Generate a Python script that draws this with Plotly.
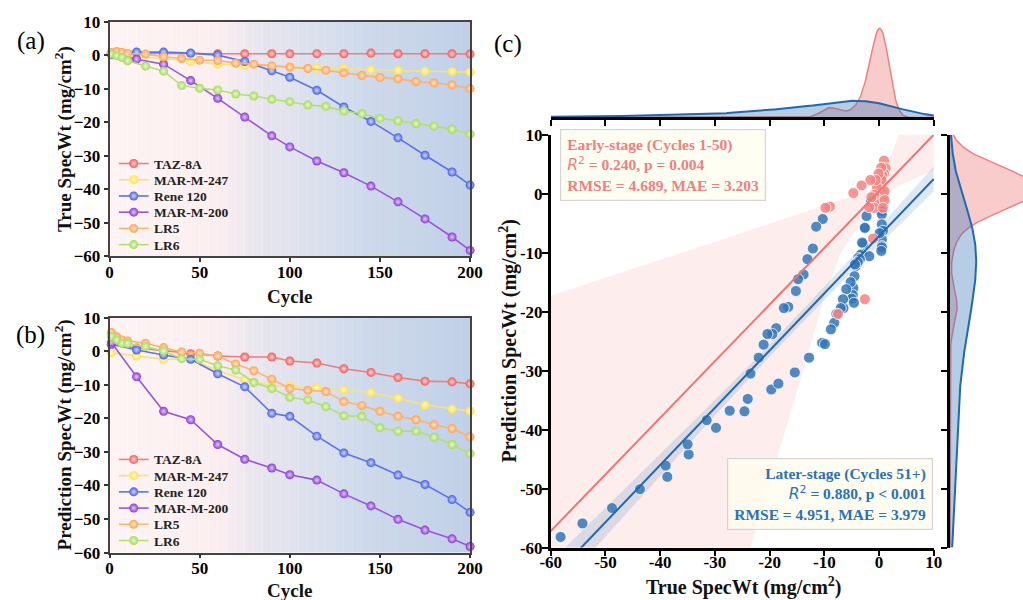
import numpy as np
import plotly.graph_objects as go

# ---------------- data ----------------
cycles_alloy = [1, 15, 30, 45, 60, 75, 90, 100, 115, 130, 145, 160, 175, 190, 200]
cycles_lr = [1, 4, 7, 10, 20, 30, 40, 50, 60, 70, 80, 90, 100, 110, 120, 130,
             140, 150, 160, 170, 180, 190, 200]

series_names = ["TAZ-8A", "MAR-M-247", "Rene 120", "MAR-M-200", "LR5", "LR6"]

true_taz8a = [0.5, 0.6, 0.6, 0.6, 0.5, 0.5, 0.5, 0.5, 0.5, 0.5, 0.7, 0.5, 0.5, 0.5, 0.4]
true_marm247 = [0.0, -0.4, -0.9, -1.8, -2.6, -2.9, -3.2, -3.4, -3.8, -3.9, -4.3, -4.5, -4.7, -4.8, -5.0]
true_rene120 = [0.6, 1.0, 1.0, 0.7, 0.1, -1.8, -4.6, -6.5, -10.4, -15.4, -19.7, -24.6, -29.8, -34.8, -38.7]
true_marm200 = [0.3, -1.1, -2.6, -7.5, -12.8, -18.4, -24.0, -27.3, -31.5, -35.0, -39.0, -43.7, -48.8, -54.2, -58.2]
true_lr5 = [0.9, 1.2, 0.9, 0.6, 0.4, -0.4, -0.9, -1.4, -1.5, -2.3, -2.6, -3.1, -3.5, -3.9,
            -4.4, -5.2, -6.0, -6.6, -7.0, -7.8, -8.2, -8.8, -9.9]
true_lr6 = [0.4, -0.1, -0.6, -1.6, -3.2, -4.7, -9.0, -9.8, -10.3, -11.5, -12.1, -13.1, -13.8,
            -14.8, -15.2, -16.6, -17.4, -18.8, -19.5, -20.4, -21.1, -22.0, -23.5]

pred_taz8a = [2.0, 1.0, 0.2, -0.7, -1.4, -1.7, -1.7, -2.9, -3.5, -5.2, -6.3, -7.8, -8.9, -9.1, -9.7]
pred_marm247 = [-0.4, -1.4, -2.4, -2.3, -5.8, -8.5, -10.2, -10.4, -10.9, -11.5, -12.3, -14.0, -16.0, -17.2, -17.8]
pred_rene120 = [2.1, 0.4, -1.1, -2.4, -6.7, -10.6, -18.5, -19.4, -25.3, -30.3, -33.2, -36.9, -39.7, -44.2, -48.0]
pred_marm200 = [2.6, -7.6, -17.9, -20.4, -27.8, -32.2, -34.8, -36.8, -38.4, -42.5, -46.1, -50.1, -53.3, -55.9, -58.2]
pred_lr5 = [5.6, 4.3, 3.4, 3.1, 2.4, 1.1, -0.2, -0.6, -1.4, -3.8, -5.8, -8.3, -11.1, -11.6,
            -12.0, -15.0, -16.2, -17.9, -19.4, -20.4, -21.9, -23.0, -25.5]
pred_lr6 = [4.4, 3.4, 2.3, 2.3, 1.4, 0.1, -2.2, -2.4, -4.3, -5.6, -9.3, -11.1, -13.7, -14.5,
            -16.5, -19.2, -19.4, -22.8, -23.8, -23.8, -25.6, -27.8, -30.5]

series_cycles = [cycles_alloy, cycles_alloy, cycles_alloy, cycles_alloy, cycles_lr, cycles_lr]
series_true = [true_taz8a, true_marm247, true_rene120, true_marm200, true_lr5, true_lr6]
series_pred = [pred_taz8a, pred_marm247, pred_rene120, pred_marm200, pred_lr5, pred_lr6]

early_cutoff = 50  # cycles 1-50 are "early stage"

# regression fits (slope, intercept) and their confidence bands
early_fit = [0.96, 0.4]
later_fit = [0.97, -7.2]
early_ci_x = [-60, -50, -40, -30, -20, -15, -10, -7, -5, -3, -2, -1, 0, 1, 2, 3, 4, 6, 8, 10]
early_ci_lower = [-176, -145, -113, -81, -49, -33.5, -17.5, -10.0, -7.2, -4.8, -3.7, -2.4,
                  -1.2, -0.2, 0.5, 1.0, 1.5, 2.4, 3.2, 4.0]
early_ci_upper = [-17.3, -14.2, -11.2, -8.2, -5.1, -3.6, -2.0, -1.1, -0.4, 0.1, 0.5, 1.3,
                  2.5, 4.3, 6.2, 8.5, 11.0, 15.0, 19.0, 23.0]
later_ci_x = [-60, -50, -40, -30, -20, -10, 0, 10]
later_ci_lower = [-68.4, -58.1, -47.8, -37.6, -27.6, -18.0, -8.7, 0.4]
later_ci_upper = [-62.4, -53.3, -44.2, -35.0, -25.6, -15.8, -5.7, 4.6]

early_label = ["Early-stage (Cycles 1-50)", "0.240", "p = 0.004", "RMSE = 4.689, MAE = 3.203"]
later_label = ["Later-stage (Cycles 51+)", "0.880", "p &lt; 0.001", "RMSE = 4.951, MAE = 3.979"]

c_ticks = [-60, -50, -40, -30, -20, -10, 0, 10]
c_ticktext = ["-60", "-50", "-40", "-30", "-20", "-10", "0", "10"]

# ---------------- styling ----------------
marker_colors = ["#F25A5A", "#FFE14D", "#4561E6", "#8A38D8", "#FFA14F", "#A6DA5B"]
line_colors = ["#F47B7B", "#F7E27A", "#5A74E8", "#9A54DC", "#FFB172", "#B3DF73"]
SERIF = "Liberation Serif"
EARLY_C = "#F08080"
LATER_C = "#2B72B4"

# drawing area in page pixels; the page adds an 8px inset around the figure
VIEW_W, VIEW_H, PAD = 1023, 600, 8
W, H = VIEW_W + 2 * PAD, VIEW_H + 2 * PAD


def tint(hex_color, amount):
    h = hex_color.lstrip("#")
    r, g, b = (int(h[i:i + 2], 16) for i in (0, 2, 4))
    r, g, b = (int(round(c + (255 - c) * amount)) for c in (r, g, b))
    return f"rgb({r},{g},{b})"


def px(x):
    """page pixel column -> paper x"""
    return (x - PAD) / VIEW_W


def py(y):
    """page pixel row -> paper y"""
    return 1.0 - (y - PAD) / VIEW_H


def sphere_marker(i, size=9):
    return dict(size=size, color=marker_colors[i], line=dict(width=0),
                gradient=dict(type="radial", color=tint(marker_colors[i], 0.75)))


fig = go.Figure()

# panels (a) and (b): line plots over cycles
for xa, ya, values in (("x", "y", series_true), ("x2", "y2", series_pred)):
    for i, name in enumerate(series_names):
        fig.add_trace(go.Scatter(
            x=series_cycles[i], y=values[i], mode="lines+markers", name=name,
            xaxis=xa, yaxis=ya, showlegend=False, cliponaxis=False,
            line=dict(color=line_colors[i], width=1.6), marker=sphere_marker(i)))

# panel (c): prediction vs truth, split by stage
early_t, early_p, later_t, later_p = [], [], [], []
for cyc, t, p in zip(series_cycles, series_true, series_pred):
    for c, tv, pv in zip(cyc, t, p):
        if c <= early_cutoff:
            early_t.append(tv)
            early_p.append(pv)
        else:
            later_t.append(tv)
            later_p.append(pv)

# confidence bands
fig.add_trace(go.Scatter(
    x=early_ci_x + early_ci_x[::-1], y=early_ci_upper + early_ci_lower[::-1],
    fill="toself", fillcolor="rgba(240,128,128,0.14)", line=dict(width=0),
    mode="lines", hoverinfo="skip", showlegend=False, xaxis="x3", yaxis="y3"))
fig.add_trace(go.Scatter(
    x=later_ci_x + later_ci_x[::-1], y=later_ci_upper + later_ci_lower[::-1],
    fill="toself", fillcolor="rgba(43,114,180,0.16)", line=dict(width=0),
    mode="lines", hoverinfo="skip", showlegend=False, xaxis="x3", yaxis="y3"))

fig.add_trace(go.Scatter(
    x=later_t, y=later_p, mode="markers", showlegend=False, xaxis="x3", yaxis="y3",
    marker=dict(size=11, color="rgba(52,118,182,0.85)", line=dict(color="white", width=0.8))))
fig.add_trace(go.Scatter(
    x=early_t, y=early_p, mode="markers", showlegend=False, xaxis="x3", yaxis="y3",
    marker=dict(size=11, color="rgba(244,132,128,0.85)", line=dict(color="white", width=0.8))))

fit_x = np.array([-60.0, 10.0])
fig.add_trace(go.Scatter(
    x=fit_x, y=early_fit[0] * fit_x + early_fit[1], mode="lines", showlegend=False,
    xaxis="x3", yaxis="y3", line=dict(color="#F47272", width=2)))
fig.add_trace(go.Scatter(
    x=fit_x, y=later_fit[0] * fit_x + later_fit[1], mode="lines", showlegend=False,
    xaxis="x3", yaxis="y3", line=dict(color="#2268AE", width=2)))


# marginal densities (gaussian KDE, Scott bandwidth, each group normalised)
def kde(values, grid):
    v = np.asarray(values, dtype=float)
    n = len(v)
    bw = v.std(ddof=1) * n ** (-0.2)
    z = (grid[:, None] - v[None, :]) / bw
    return np.exp(-0.5 * z ** 2).sum(axis=1) / (n * bw * np.sqrt(2 * np.pi))


grid = np.linspace(-60, 10, 400)
top_early, top_later = kde(early_t, grid), kde(later_t, grid)
side_early, side_later = kde(early_p, grid), kde(later_p, grid)

fig.add_trace(go.Scatter(x=grid, y=top_early, fill="tozeroy", mode="lines",
                         fillcolor="rgba(240,128,128,0.40)", line=dict(color="#F08080", width=1.5),
                         showlegend=False, xaxis="x4", yaxis="y4"))
fig.add_trace(go.Scatter(x=grid, y=top_later, fill="tozeroy", mode="lines",
                         fillcolor="rgba(43,114,180,0.35)", line=dict(color="#2268AE", width=2),
                         showlegend=False, xaxis="x4", yaxis="y4"))
fig.add_trace(go.Scatter(x=side_early, y=grid, fill="tozerox", mode="lines",
                         fillcolor="rgba(240,128,128,0.40)", line=dict(color="#F08080", width=1.5),
                         showlegend=False, xaxis="x5", yaxis="y5"))
fig.add_trace(go.Scatter(x=side_later, y=grid, fill="tozerox", mode="lines",
                         fillcolor="rgba(43,114,180,0.35)", line=dict(color="#2268AE", width=2),
                         showlegend=False, xaxis="x5", yaxis="y5"))

# legends of panels (a) and (b), laid out in a page-pixel overlay
legend_tops = [163.3, 460.7]
legend_step = 16.3
legend_font = dict(family=SERIF, size=13.5, color="#222", weight="bold")
legend_annotations = []
for top in legend_tops:
    for i, name in enumerate(series_names):
        yc = top + legend_step * i
        fig.add_trace(go.Scatter(
            x=[116.7, 146.7], y=[yc, yc], mode="lines", showlegend=False, hoverinfo="skip",
            xaxis="x6", yaxis="y6", line=dict(color=line_colors[i], width=1.6)))
        fig.add_trace(go.Scatter(
            x=[131.7], y=[yc], mode="markers", showlegend=False, hoverinfo="skip",
            xaxis="x6", yaxis="y6", marker=sphere_marker(i)))
        legend_annotations.append(dict(text=name, x=px(150), y=py(yc + 0.5), xanchor="left",
                                       yanchor="middle", font=legend_font))

# ---------------- layout ----------------
tick_font = dict(family=SERIF, size=17, color="black", weight="bold")
ab_x_domain = [px(107.3), px(470.7)]


def ab_xaxis(anchor):
    return dict(domain=ab_x_domain, range=[0, 200], anchor=anchor, tickvals=[0, 50, 100, 150, 200],
                ticks="outside", ticklen=4, tickwidth=1.5, tickcolor="#333",
                showline=True, linecolor="#444", linewidth=1.5, mirror=True,
                showgrid=False, zeroline=False, tickfont=tick_font, ticklabelstandoff=-5)


def ab_yaxis(anchor, dom):
    return dict(domain=dom, range=[-60, 10], anchor=anchor, dtick=10,
                ticks="outside", ticklen=4, tickwidth=1.5, tickcolor="#333",
                showline=True, linecolor="#444", linewidth=1.5, mirror=True,
                showgrid=False, zeroline=False, tickfont=tick_font)


c_x_domain = [px(552), px(938.1)]
c_y_domain = [py(549.3), py(134.3)]

fig.update_layout(
    width=W, height=H, margin=dict(l=0, r=0, t=0, b=0),
    paper_bgcolor="white", plot_bgcolor="rgba(0,0,0,0)", showlegend=False,
    xaxis=ab_xaxis("y"), yaxis=ab_yaxis("x", [py(256.7), py(21)]),
    xaxis2=ab_xaxis("y2"), yaxis2=ab_yaxis("x2", [py(554.3), py(318.3)]),
    xaxis3=dict(domain=c_x_domain, range=[-60, 10], anchor="y3", tickvals=c_ticks,
                ticktext=c_ticktext, ticks="outside", ticklen=6, tickwidth=2,
                tickcolor="black", showline=True, linecolor="black", linewidth=2.5,
                showgrid=False, zeroline=False, tickfont=tick_font, ticklabelstandoff=-9),
    yaxis3=dict(domain=c_y_domain, range=[-60, 10], anchor="x3", tickvals=c_ticks,
                ticktext=c_ticktext, ticks="outside", ticklen=6, tickwidth=2,
                tickcolor="black", showline=True, linecolor="black", linewidth=2.5,
                showgrid=False, zeroline=False, tickfont=tick_font, ticklabelstandoff=-4),
    xaxis4=dict(domain=c_x_domain, range=[-60, 10], anchor="y4", tickvals=c_ticks,
                ticks="outside", ticklen=6, tickwidth=2, tickcolor="black",
                showticklabels=False, showline=True, linecolor="black", linewidth=2.5,
                showgrid=False, zeroline=False),
    yaxis4=dict(domain=[py(117), py(23)], range=[0, float(top_early.max()) * 1.05],
                anchor="x4", visible=False),
    xaxis5=dict(domain=[px(954.4), 1.0], range=[0, float(side_later.max()) * 2.9],
                anchor="y5", visible=False),
    yaxis5=dict(domain=c_y_domain, range=[-60, 10], anchor="x5", tickvals=c_ticks,
                ticks="outside", ticklen=6, tickwidth=2, tickcolor="black",
                showticklabels=False, showline=True, linecolor="black", linewidth=2.5,
                showgrid=False, zeroline=False),
    xaxis6=dict(domain=[0, 1], range=[PAD, PAD + VIEW_W], anchor="y6", visible=False,
                fixedrange=True),
    yaxis6=dict(domain=[0, 1], range=[PAD + VIEW_H, PAD], anchor="x6", visible=False,
                fixedrange=True),
)

# cycle-wise background gradient (pink -> steel blue) behind panels (a) and (b)
stops = [(0, (254, 244, 244)), (60, (252, 238, 240)), (80, (234, 230, 239)),
         (110, (220, 225, 237)), (140, (207, 218, 235)), (200, (192, 208, 232))]


def bg_color(c):
    for (c0, k0), (c1, k1) in zip(stops[:-1], stops[1:]):
        if c0 <= c <= c1:
            f = (c - c0) / (c1 - c0)
            return "rgb(%d,%d,%d)" % tuple(int(round(a + (b - a) * f)) for a, b in zip(k0, k1))
    return "rgb(%d,%d,%d)" % stops[-1][1]


edges = np.linspace(0, 200, 41)
shapes = []
for xr, yr in (("x", "y domain"), ("x2", "y2 domain")):
    for lo, hi in zip(edges[:-1], edges[1:]):
        col = bg_color((lo + hi) / 2)
        shapes.append(dict(type="rect", xref=xr, yref=yr, x0=lo, x1=hi, y0=0, y1=1,
                           fillcolor=col, line=dict(width=0, color=col), layer="below"))
fig.update_layout(shapes=shapes)

title_font = dict(family=SERIF, size=19, color="#111", weight="bold")
c_title_font = dict(family=SERIF, size=20, color="#111", weight="bold")
r2_html = "<span style='font-family:DejaVu Sans;font-weight:normal'><i>R</i><sup>2</sup></span>"

annotations = [
    dict(text="(a)", x=px(28), y=py(40), font=dict(family=SERIF, size=25, color="black")),
    dict(text="(b)", x=px(28), y=py(336), font=dict(family=SERIF, size=25, color="black")),
    dict(text="(c)", x=px(509), y=py(43), font=dict(family=SERIF, size=25, color="black")),
    dict(text="True SpecWt (mg/cm<sup>2</sup>)", x=px(61), y=py(139), textangle=-90, font=title_font),
    dict(text="Cycle", x=px(289), y=py(297), font=title_font),
    dict(text="Prediction SpecWt (mg/cm<sup>2</sup>)", x=px(61), y=py(436), textangle=-90, font=title_font),
    dict(text="Cycle", x=px(289), y=py(592), font=title_font),
    dict(text="True SpecWt (mg/cm<sup>2</sup>)", x=px(746), y=py(588), font=c_title_font),
    dict(text="Prediction SpecWt (mg/cm<sup>2</sup>)", x=px(509), y=py(342), textangle=-90,
         font=c_title_font),
    dict(text=f"<b>{early_label[0]}<br>{r2_html} = {early_label[1]}, {early_label[2]}<br>{early_label[3]}</b>",
         x=px(561), y=py(129), xanchor="left", yanchor="top", align="left",
         bgcolor="#FFFEF3", bordercolor="#D5D5D5", borderwidth=1.2, borderpad=6,
         font=dict(family=SERIF, size=15.5, color=EARLY_C, weight="bold")),
    dict(text=f"<b>{later_label[0]}<br>{r2_html} = {later_label[1]}, {later_label[2]}<br>{later_label[3]}</b>",
         x=px(937), y=py(531.7), xanchor="right", yanchor="bottom", align="right",
         bgcolor="rgba(255,252,238,0.75)", bordercolor="#D5D5D5", borderwidth=1.2, borderpad=6,
         font=dict(family=SERIF, size=15.5, color=LATER_C, weight="bold")),
] + legend_annotations
for a in annotations:
    a.setdefault("xref", "paper")
    a.setdefault("yref", "paper")
    a.setdefault("showarrow", False)
    a.setdefault("xanchor", "center")
    a.setdefault("yanchor", "middle")
fig.update_layout(annotations=annotations)

fig.write_html("out.html")
